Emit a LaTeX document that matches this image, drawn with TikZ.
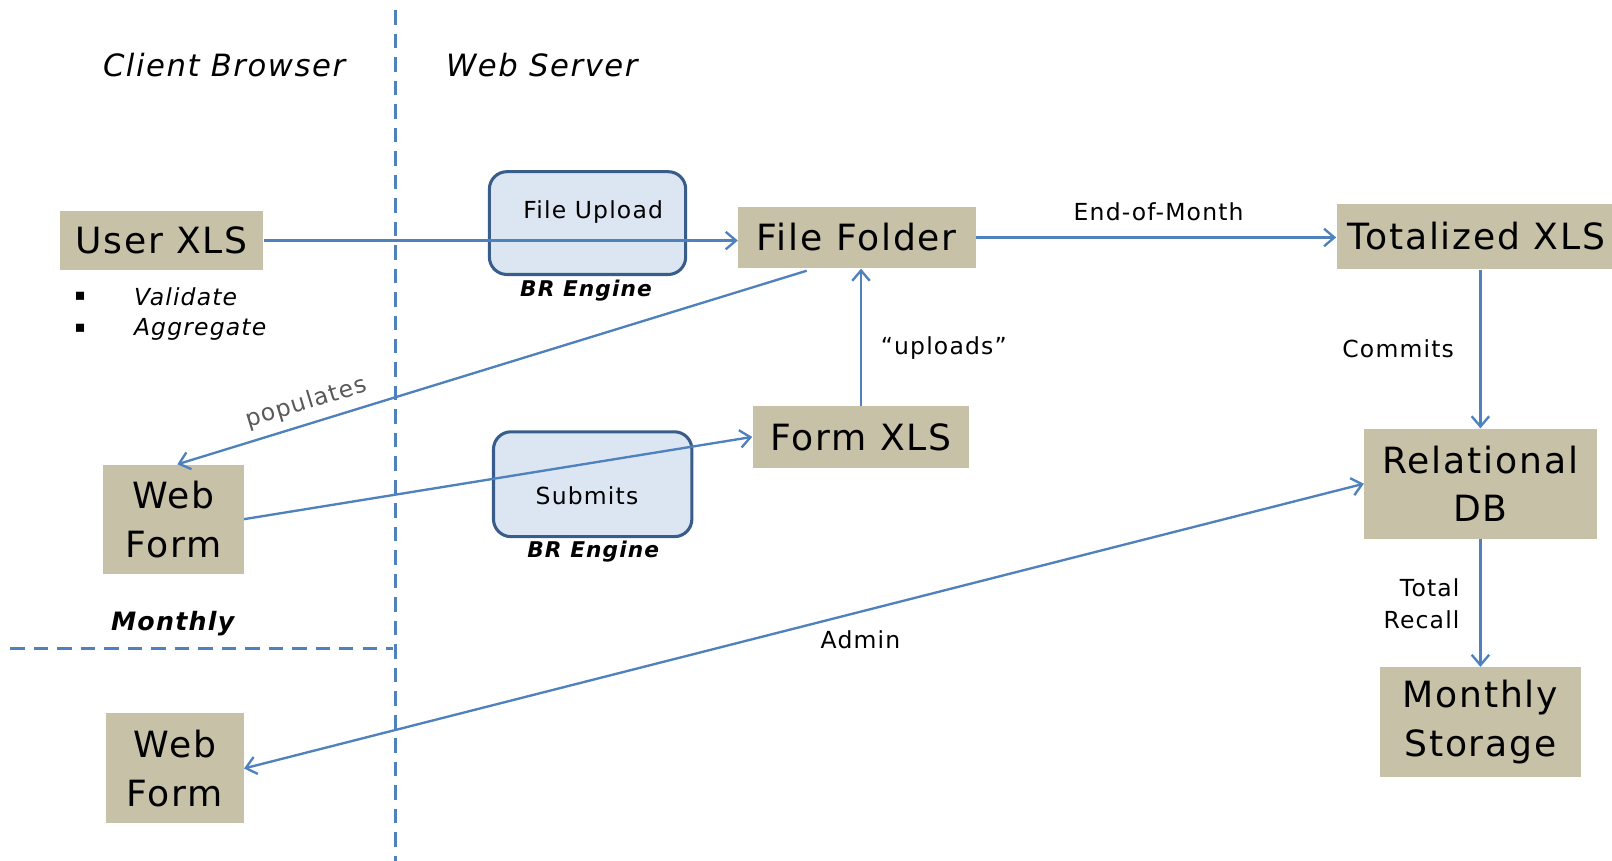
\documentclass[tikz,border=0pt]{standalone}
\usepackage{fontspec}
\setmainfont{DejaVu Sans}[LetterSpace=5]
\usetikzlibrary{arrows.meta,calc}
\definecolor{boxfill}{RGB}{199,193,168}
\definecolor{linkblue}{RGB}{79,129,189}
\definecolor{brfill}{RGB}{220,230,242}
\definecolor{brdraw}{RGB}{56,93,138}
\definecolor{labelgray}{RGB}{89,89,89}
\begin{document}
\begin{tikzpicture}[x=0.02cm,y=-0.02cm,
  box/.style={fill=boxfill, inner sep=0pt, align=center, font=\fontsize{20}{27}\selectfont},
  brbox/.style={draw=brdraw, fill=brfill, line width=1.7pt, rounded corners=0.34cm, inner sep=0pt},
  smalltxt/.style={inner sep=0pt, font=\fontsize{13}{17.6}\selectfont},
  ittxt/.style={inner sep=0pt, font=\fontsize{13}{17.6}\selectfont\itshape},
  brtxt/.style={inner sep=0pt, font=\fontsize{12}{16}\selectfont\bfseries\itshape},
  boldit/.style={inner sep=0pt, font=\fontsize{14}{18}\selectfont\bfseries\itshape},
  headtxt/.style={inner sep=0pt, font=\fontsize{17}{20}\selectfont\itshape},
  bullettxt/.style={inner sep=0pt, font=\fontsize{9}{10}\selectfont},
  link/.style={draw=linkblue, line width=1.3pt, -{Straight Barb[length=2mm,width=3.4mm]}},
  linkboth/.style={draw=linkblue, line width=1.3pt, {Straight Barb[length=2mm,width=3.4mm]}-{Straight Barb[length=2mm,width=3.4mm]}},
  divider/.style={draw=linkblue, line width=1.5pt, dash pattern=on 8pt off 5pt}
]
\useasboundingbox (0,0) rectangle (1568,837);

% dividers
\coordinate (vtop) at (385,10);
\coordinate (vbot) at (385,845);
\coordinate (hleft) at (10,631);
\coordinate (hright) at (382,631);
\draw[divider] (vtop) -- (vbot);
\draw[divider] (hleft) -- (hright);

% column headings
\node[headtxt] (client) at (218,63) {Client Browser};
\node[headtxt] (server) at (527,63) {Web Server};

% BR engine boxes
\node[brbox, minimum width=3.82cm, minimum height=2cm] (fileupload) at (571.5,217) {};
\node[brbox, minimum width=3.86cm, minimum height=2.04cm] (submitbox) at (576.5,471) {};
\node[smalltxt] (fulabel) at (577,206) {File Upload};
\node[smalltxt] (sublabel) at (571,482) {Submits};
\node[brtxt] (brone) at (570,283) {BR Engine};
\node[brtxt] (brtwo) at (577,537) {BR Engine};

% main boxes
\node[box, minimum width=3.96cm, minimum height=1.16cm] (userxls) at (157,234) {User XLS};
\node[box, minimum width=4.62cm, minimum height=1.2cm] (filefolder) at (833.5,231) {File Folder};
\node[box, minimum width=5.44cm, minimum height=1.28cm] (totxls) at (1436,230) {Totalized XLS};
\node[box, minimum width=4.22cm, minimum height=1.2cm] (formxls) at (837.5,425) {Form XLS};
\node[box, minimum width=4.52cm, minimum height=2.14cm] (reldb) at (1440,470.5) {Relational\\DB};
\node[box, minimum width=3.92cm, minimum height=2.14cm] (monthly) at (1440,702.5) {Monthly\\Storage};
\node[box, minimum width=2.74cm, minimum height=2.12cm] (webform1) at (168.5,505) {Web\\Form};
\node[box, minimum width=2.68cm, minimum height=2.14cm] (webform2) at (170,747.5) {Web\\Form};

% bullets
\node[bullettxt] (bulletone) at (78,288) {▪};
\node[bullettxt] (bullettwo) at (78,319) {▪};
\node[ittxt, anchor=west] (validate) at (130,289) {Validate};
\node[ittxt, anchor=west] (aggregate) at (130,320) {Aggregate};
\node[boldit] (monthlylbl) at (168,607) {Monthly};

% connectors
\draw[link] (userxls.east) -- (userxls.east -| filefolder.west);
\draw[link] (filefolder.east) -- (filefolder.east -| totxls.west);
\draw[link] (reldb.north |- totxls.south) -- (reldb.north);
\draw[link] (reldb.south) -- (monthly.north);
\draw[link] (formxls.north) -- (formxls.north |- filefolder.south);
\draw[link] ($(filefolder.south west)+(67,2)$) -- ($(webform1.north)+(4,0)$);
\draw[link] (webform1.east) -- (formxls.west);
\draw[linkboth] (webform2.east) -- (reldb.west);

% connector labels
\node[smalltxt] (eom) at (1127,206) {End-of-Month};
\node[smalltxt] (commits) at (1360,339) {Commits};
\node[smalltxt] (uploads) at (918,339) {“uploads”};
\node[smalltxt, align=right, anchor=east] (recall) at (1420,587) {Total\\Recall};
\node[smalltxt] (admin) at (837,622) {Admin};
\node[smalltxt, text=labelgray, rotate=17] (populates) at (298,392) {populates};
\end{tikzpicture}
\end{document}
